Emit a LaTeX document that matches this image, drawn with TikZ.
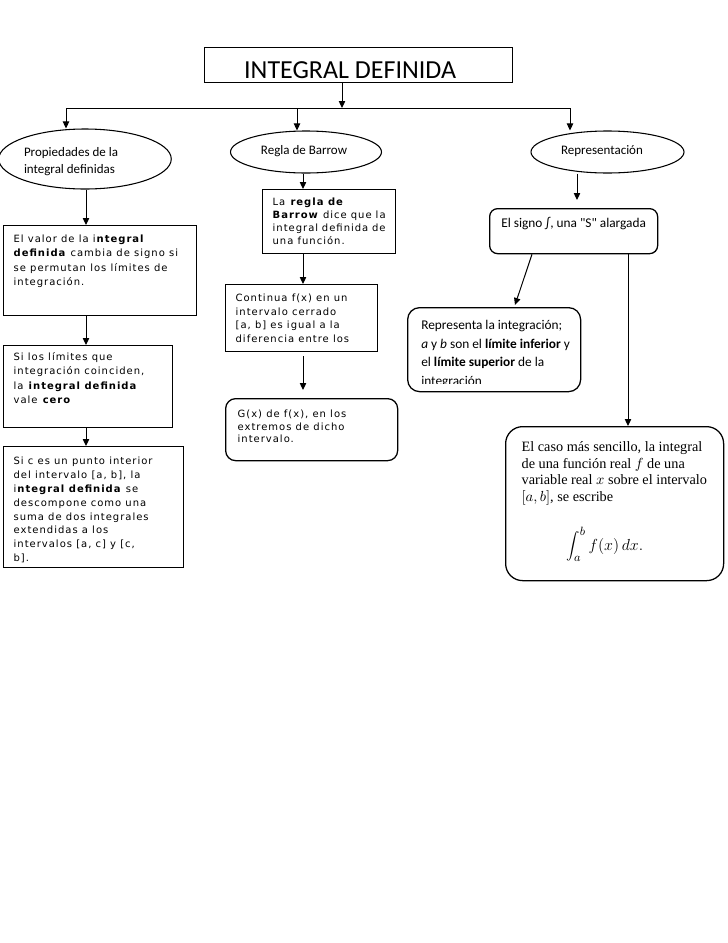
\documentclass[tikz,border=0pt]{standalone}
\usepackage{fontspec}
\setmainfont{Carlito}
\newfontfamily\verd[LetterSpace=10]{DejaVu Sans}
\newfontfamily\tms{Liberation Serif}
\usetikzlibrary{shapes.geometric,arrows.meta,calc}
\newdimen\px \px=0.75pt
\newcommand\vfont[1]{\fontsize{7.5pt}{#1}\verd\raggedright}
\newcommand\cfont{\fontsize{10pt}{13.9pt}\selectfont}
\begin{document}
\begin{tikzpicture}[x=0.75pt,y=-0.75pt,
  arr/.style={-{Triangle[length=5.25pt,width=4.8pt]}, line width=0.75pt},
  ln/.style={line width=0.75pt},
  rect/.style={draw, line width=0.95pt, inner sep=0pt, anchor=north west},
  rrect/.style={rect, rounded corners=7.5pt},
  ell/.style={draw, ellipse, line width=0.8pt, inner sep=0pt}]
\useasboundingbox (0,0) rectangle (728,943);

% title
\node[rect, minimum width=231pt, minimum height=26.25pt, font=\fontsize{19.5pt}{23pt}\selectfont] (T) at (204,47) {\rule{0pt}{26\px}INTEGRAL DEFINIDA\hspace*{17\px}};

% ellipses
\node[ell, minimum width=129pt, minimum height=45pt] (P) at (85,159)
  {\raisebox{0pt}[\dimexpr\height+6\px\relax][\depth]{\parbox[c]{100\px}{\fontsize{9.75pt}{12.75pt}\selectfont Propiedades de la\\integral definidas}}\hspace*{22\px}};
\node[ell, minimum width=113.25pt, minimum height=31.5pt, text height=6.75pt, text depth=3pt, font=\fontsize{9.75pt}{12pt}\selectfont] (R) at (306,152) {Regla de Barrow\hspace*{4\px}};
\node[ell, minimum width=114.75pt, minimum height=31.5pt, text height=6.75pt, text depth=3pt, font=\fontsize{9.75pt}{12pt}\selectfont] (S) at (607.5,152) {Representación\hspace*{11\px}};

% left column
\node[rect, inner xsep=7.5pt, inner ysep=6.375pt] (A) at (3,225)
  {\parbox[t][73\px][t]{173\px}{\vfont{10.65pt}\rule{0pt}{8.5\px}El valor de la i\textbf{ntegral}\\\textbf{definida} cambia de signo si\\se permutan los límites de\\integración.}};
\node[rect, inner xsep=7.5pt, inner ysep=4.875pt] (B) at (3,345)
  {\parbox[t][69\px][t]{149\px}{\vfont{10.7pt}\rule{0pt}{8.5\px}Si los límites que\\integración coinciden,\\la \textbf{integral definida}\\vale \textbf{cero}}};
\node[rect, inner xsep=7.5pt, inner ysep=7.125pt] (C) at (3,446)
  {\parbox[t][102\px][t]{160\px}{\vfont{10.4pt}\rule{0pt}{8.5\px}Si c es un punto interior\\del intervalo [a, b], la\\i\textbf{ntegral definida} se\\descompone como una\\suma de dos integrales\\extendidas a los\\intervalos [a, c] y [c,\\b].}};

% middle column
\node[rect, inner xsep=7.5pt, inner ysep=5.625pt] (D) at (262,189)
  {\parbox[t][49\px][t]{113\px}{\vfont{9.8pt}\rule{0pt}{8.5\px}La \textbf{regla de}\\\textbf{Barrow} dice que la\\integral definida de\\una función.}};
\node[rect, inner xsep=7.5pt, inner ysep=6.375pt] (E) at (225,284)
  {\parbox[t][50\px][t]{132\px}{\vfont{10.1pt}\rule{0pt}{8.5\px}Continua f(x) en un\\intervalo cerrado\\{}[a, b] es igual a la\\diferencia entre los}};
\node[rrect, inner xsep=9pt, inner ysep=7.875pt] (F) at (225,398)
  {\parbox[t][41\px][t]{148\px}{\vfont{9.3pt}\rule{0pt}{8.5\px}G(x) de f(x), en los\\extremos de dicho\\intervalo.}};

% right column
\node[rrect, rounded corners=6pt, inner xsep=0pt, inner ysep=6pt] (G) at (489,208)
  {\parbox[t][29\px][t]{168\px}{\centering\cfont\addfontfeatures{Ligatures=TeXOff}\rule{0pt}{11\px}El signo ∫, una "S" alargada}};
\node[rrect, rounded corners=9pt, minimum width=129.75pt, minimum height=63pt,
  path picture={
    \clip (path picture bounding box.north west) rectangle ([yshift=6pt]path picture bounding box.south east);
    \node[draw=none, anchor=north west, inner sep=0pt, rounded corners=0pt] (Htx) at ([xshift=6.75pt,yshift=-2.25pt]path picture bounding box.north west)
      {\parbox[t]{165\px}{\cfont\raggedright\rule{0pt}{11\px}Representa la integración;\\\emph{a} y \emph{b} son el \textbf{límite inferior} y\\el \textbf{límite superior} de la\\integración}};
  }] (H) at (407,307) {};
\node[rrect, rounded corners=12.75pt, inner xsep=12pt, inner ysep=10.5pt] (I) at (505,426)
  {\parbox[t][126\px][t]{186\px}{\fontsize{10.7pt}{12.5pt}\tms\raggedright\rule{0pt}{11\px}El caso más sencillo, la integral\\de una función real $f$ de una\\variable real $x$ sobre el intervalo\\$[a,b]$, se escribe\\[32\px]\hspace*{45\px}\smash{\fontsize{12.5pt}{15pt}\selectfont$\displaystyle\int_a^b f(x)\,dx.$}}};

% connectors
\coordinate (J) at (342,108);
\coordinate (HL) at (66,108);
\coordinate (HM) at (297,108);
\coordinate (HR) at (570,108);
\coordinate (LC) at (86,0);
\coordinate (MC) at (303,0);
\coordinate (RC) at (577,0);
\coordinate (IC) at (628,0);
\draw[arr] (T.south -| J) -- (J);
\draw[ln] (HL) -- (HR);
\draw[arr] (HL) -- (HL |- P.north);
\draw[arr] (HM) -- (HM |- R.north);
\draw[arr] (HR) -- (HR |- S.north);
\draw[arr] (P.south -| LC) -- (A.north -| LC);
\draw[arr] (A.south -| LC) -- (B.north -| LC);
\draw[arr] (B.south -| LC) -- (C.north -| LC);
\draw[arr] (R.south -| MC) -- (D.north -| MC);
\draw[arr] (D.south -| MC) -- (E.north -| MC);
\draw[arr, shorten <=3pt, shorten >=6pt] (E.south -| MC) -- (F.north -| MC);
\draw[arr, shorten >=6pt] (S.south -| RC) -- (G.north -| RC);
\draw[arr] ($(G.south west)+(43,0)$) -- ($(H.north west)+(108,-2)$);
\draw[arr] (G.south -| IC) -- (I.north -| IC);
\end{tikzpicture}
\end{document}
